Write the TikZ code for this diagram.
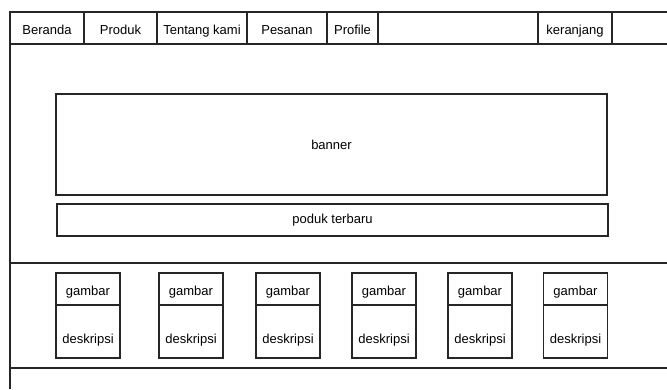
\documentclass[tikz,border=0pt]{standalone}
\usepackage{fontspec}
\setmainfont{Liberation Sans}
\begin{document}
\begin{tikzpicture}[x=1pt, y=-1pt, line width=1.4pt, draw=black!85, font=\fontsize{13}{15}\selectfont]
\tikzstyle{menu} = [draw, rectangle, minimum height=32pt, inner sep=0pt, text height=15pt, text depth=2.5pt];
\tikzstyle{block} = [draw, rectangle, inner sep=0pt];
\tikzstyle{pic} = [draw, rectangle, minimum width=64pt, minimum height=32pt, inner sep=0pt, text height=14.5pt, text depth=2.5pt];
\tikzstyle{desc} = [draw, rectangle, minimum width=64pt, minimum height=53pt, inner sep=0pt, text height=26pt, text depth=3pt];
\useasboundingbox (0,0) rectangle (667,389);
\draw (667,12) -- (10,12) -- (10,389);
\draw (10,44) -- (667,44);
\draw (10,263) -- (667,263);
\draw (10,368) -- (667,368);
\node[menu, minimum width=74pt] (beranda) at (47,28) {Beranda};
\node[menu, minimum width=73pt] (produk) at (120.5,28) {Produk};
\node[menu, minimum width=90pt] (tentang) at (202,28) {Tentang kami};
\node[menu, minimum width=80pt] (pesanan) at (287,28) {Pesanan};
\node[menu, minimum width=51pt] (profile) at (352.5,28) {Profile};
\node[menu, minimum width=74pt] (keranjang) at (575,28) {keranjang};
\node[block, minimum width=551pt, minimum height=101pt] (banner) at (331.5,144.5) {banner};
\node[block, minimum width=551pt, minimum height=32pt] (terbaru) at (332.5,220) {poduk terbaru};
\node[pic] (g1) at (88,289) {gambar};
\node[desc] (d1) at (88,331.5) {deskripsi};
\node[pic] (g2) at (191,289) {gambar};
\node[desc] (d2) at (191,331.5) {deskripsi};
\node[pic] (g3) at (288,289) {gambar};
\node[desc] (d3) at (288,331.5) {deskripsi};
\node[pic] (g4) at (384,289) {gambar};
\node[desc] (d4) at (384,331.5) {deskripsi};
\node[pic] (g5) at (480,289) {gambar};
\node[desc] (d5) at (480,331.5) {deskripsi};
\node[pic] (g6) at (575.5,289) {gambar};
\node[desc] (d6) at (575.5,331.5) {deskripsi};
\end{tikzpicture}
\end{document}
